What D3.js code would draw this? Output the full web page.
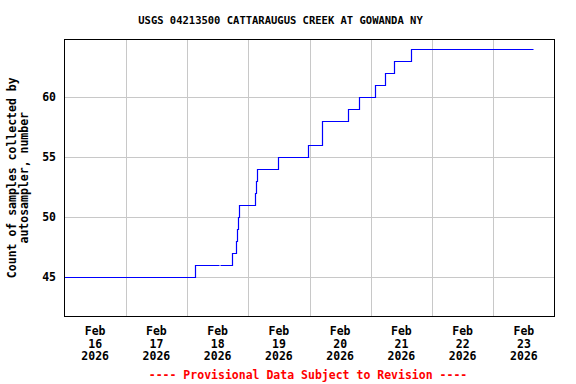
<!DOCTYPE html>
<html>
<head>
<meta charset="utf-8">
<script src="https://cdn.jsdelivr.net/npm/d3@7"></script>
<style>
  body { margin: 0; background: #fff; }
  text { font-family: "DejaVu Sans Mono", monospace; font-weight: bold; }
</style>
</head>
<body>
<svg id="chart" width="576" height="384"></svg>
<script>
// sample count steps (time of each new count), null = gap in record
var times = ["2026-02-16 00:00", "2026-02-18 03:30", "2026-02-18 12:45", "2026-02-18 12:50",
  "2026-02-18 13:15", "2026-02-18 17:45", "2026-02-18 19:30", "2026-02-18 19:45",
  "2026-02-18 20:00", "2026-02-18 20:30", "2026-02-19 03:00", "2026-02-19 03:15",
  "2026-02-19 03:45", "2026-02-19 12:00", "2026-02-19 23:45", "2026-02-20 05:00",
  "2026-02-20 05:15", "2026-02-20 15:15", "2026-02-20 19:45", "2026-02-21 02:00",
  "2026-02-21 05:45", "2026-02-21 09:30", "2026-02-21 16:00", "2026-02-23 15:45"];
var counts = [45, 46, 46, null, 46, 47, 48, 49, 50, 51, 52, 53, 54, 55, 56, 57, 58, 59, 60, 61, 62, 63, 64, 64];

var yTicks = [45, 50, 55, 60];
var dayTicks = ["2026-02-16", "2026-02-17", "2026-02-18", "2026-02-19",
  "2026-02-20", "2026-02-21", "2026-02-22", "2026-02-23"];

var title = "USGS 04213500 CATTARAUGUS CREEK AT GOWANDA NY";
var yLabel = ["Count of samples collected by", "autosampler, number"];
var footer = "---- Provisional Data Subject to Revision ----";

var parseTime = d3.utcParse("%Y-%m-%d %H:%M");
var parseDay = d3.utcParse("%Y-%m-%d");

var data = times.map(function(t, i) { return { date: parseTime(t), value: counts[i] }; });

// plot box (window.top is reserved, so no "top")
var pLeft = 64.5, pRight = 554.5, pTop = 39.5, pBottom = 316;

var x = d3.scaleUtc()
  .domain([parseDay("2026-02-16"), parseDay("2026-02-24")])
  .range([pLeft, pRight]);
var y = d3.scaleLinear()
  .domain([41.8, 64.75])
  .range([pBottom, pTop]);

var svg = d3.select("#chart");

// grid
var grid = svg.append("g").attr("shape-rendering", "crispEdges")
  .attr("stroke", "#c8c8c8").attr("stroke-width", 1);
grid.selectAll("line.h").data(yTicks).enter().append("line")
  .attr("x1", pLeft).attr("x2", pRight)
  .attr("y1", function(d) { return Math.round(y(d)) + 0.5; })
  .attr("y2", function(d) { return Math.round(y(d)) + 0.5; });
grid.selectAll("line.v").data(dayTicks.slice(1)).enter().append("line")
  .attr("y1", pTop).attr("y2", pBottom)
  .attr("x1", function(d) { return Math.round(x(parseDay(d))) + 0.5; })
  .attr("x2", function(d) { return Math.round(x(parseDay(d))) + 0.5; });

// step line, snapped to pixel centres
var line = d3.line()
  .defined(function(d) { return d.value !== null; })
  .x(function(d) { return Math.floor(x(d.date)) + 0.5; })
  .y(function(d) { return Math.round(y(d.value)) + 0.5; })
  .curve(d3.curveStepAfter);

svg.append("path")
  .datum(data)
  .attr("d", line)
  .attr("fill", "none")
  .attr("stroke", "#0000ff")
  .attr("stroke-width", 1.2);

// frame
svg.append("rect")
  .attr("x", pLeft).attr("y", pTop)
  .attr("width", pRight - pLeft).attr("height", pBottom - pTop)
  .attr("fill", "none").attr("stroke", "#000")
  .attr("shape-rendering", "crispEdges");

// y tick labels
svg.selectAll("text.ytick").data(yTicks).enter().append("text")
  .attr("x", 56).attr("y", function(d) { return y(d) + 4; })
  .attr("text-anchor", "end")
  .style("font-size", "11.5px")
  .text(function(d) { return d; });

// x tick labels at noon
var fmtMon = d3.utcFormat("%b"), fmtDay = d3.utcFormat("%d"), fmtYear = d3.utcFormat("%Y");
var xl = svg.selectAll("text.xtick").data(dayTicks).enter().append("text")
  .attr("text-anchor", "middle")
  .style("font-size", "11.5px")
  .attr("transform", function(d) {
    var t = d3.utcHour.offset(parseDay(d), 12);
    return "translate(" + x(t) + ",335)";
  });
xl.append("tspan").attr("x", 0).attr("y", 0).text(function(d) { return fmtMon(parseDay(d)); });
xl.append("tspan").attr("x", 0).attr("y", 12.7).text(function(d) { return fmtDay(parseDay(d)); });
xl.append("tspan").attr("x", 0).attr("y", 25.4).text(function(d) { return fmtYear(parseDay(d)); });

// title
svg.append("text")
  .attr("x", 280.5).attr("y", 24)
  .attr("text-anchor", "middle")
  .style("font-size", "10.5px")
  .text(title);

// y axis label
svg.append("text")
  .attr("transform", "translate(0," + ((pTop + pBottom) / 2) + ") rotate(-90)")
  .attr("text-anchor", "middle")
  .style("font-size", "11.5px")
  .selectAll("tspan").data(yLabel).enter().append("tspan")
  .attr("x", 0).attr("y", function(d, i) { return 16 + i * 12; })
  .text(function(d) { return d; });

// footer
svg.append("text")
  .attr("x", 308).attr("y", 379)
  .attr("text-anchor", "middle")
  .attr("fill", "#ff0000")
  .style("font-size", "11.5px")
  .text(footer);
</script>
</body>
</html>
